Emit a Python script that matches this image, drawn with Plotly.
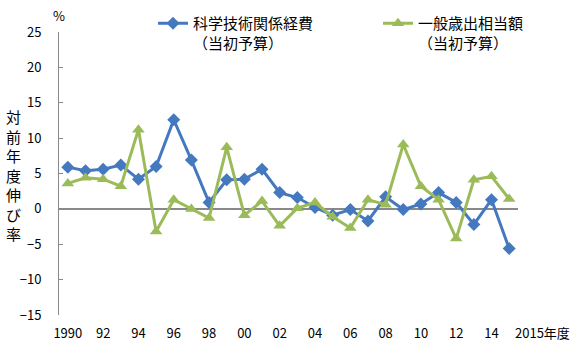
import plotly.graph_objects as go

years = list(range(1990, 2016))
st_budget = [5.9, 5.4, 5.6, 6.2, 4.2, 6.0, 12.6, 6.9, 0.9, 4.1, 4.2, 5.6, 2.3, 1.6, 0.2,
             -0.9, -0.1, -1.7, 1.7, -0.1, 0.7, 2.3, 0.9, -2.2, 1.3, -5.6]
general_exp = [3.6, 4.4, 4.2, 3.2, 11.2, -3.2, 1.3, 0.0, -1.3, 8.7, -0.9, 1.1, -2.4, 0.1, 0.9,
               -1.1, -2.7, 1.3, 0.6, 9.1, 3.2, 1.3, -4.2, 4.1, 4.6, 1.4]
tick_vals = list(range(1990, 2015, 2))
tick_text = ["1990", "92", "94", "96", "98", "00", "02", "04", "06", "08", "10", "12", "14"]
y_ticks = [25, 20, 15, 10, 5, 0, -5, -10, -15]
name1 = "科学技術関係経費<br>（当初予算）"
name2 = "一般歳出相当額<br>（当初予算）"

FONT = "Noto Sans CJK JP"
BLUE = "#4478BF"
GREEN = "#9BBB59"
GRAY = "#898989"

fig = go.Figure()
fig.add_trace(go.Scatter(x=years, y=st_budget, name=name1, mode="lines+markers",
                         line=dict(color=BLUE, width=3),
                         marker=dict(symbol="diamond", size=10, color=BLUE),
                         legend="legend"))
fig.add_trace(go.Scatter(x=years, y=general_exp, name=name2, mode="lines+markers",
                         line=dict(color=GREEN, width=3),
                         marker=dict(symbol="triangle-up", size=11, color=GREEN),
                         legend="legend2"))

fig.update_layout(
    width=583, height=350,
    margin=dict(l=59, r=65, t=32, b=35, autoexpand=False),
    paper_bgcolor="white", plot_bgcolor="white",
    font=dict(family=FONT, size=13, color="black"),
    legend=dict(x=(153 - 59) / 459, y=1 + 25 / 283,
                xanchor="left", yanchor="top", valign="top",
                font=dict(size=15, family=FONT), bgcolor="rgba(0,0,0,0)",
                tracegroupgap=0, itemwidth=30),
    legend2=dict(x=(378 - 59) / 459, y=1 + 25 / 283,
                 xanchor="left", yanchor="top", valign="top",
                 font=dict(size=15, family=FONT), bgcolor="rgba(0,0,0,0)",
                 tracegroupgap=0, itemwidth=30),
    showlegend=True,
)
fig.update_xaxes(range=[1989.5, 2015.5], tickmode="array", tickvals=tick_vals,
                 ticktext=tick_text, showgrid=False, showline=False, zeroline=False,
                 ticks="", ticklabelstandoff=9, tickfont=dict(size=13), tickangle=0)
fig.update_yaxes(range=[-15, 25], tickmode="array", tickvals=y_ticks,
                 showgrid=False, showline=True, linecolor=GRAY, linewidth=1,
                 ticks="inside", ticklen=4, tickcolor=GRAY, tickwidth=1,
                 zeroline=True, zerolinecolor=GRAY, zerolinewidth=1.5,
                 ticklabelstandoff=14, tickfont=dict(size=13))

fig.add_annotation(text="%", xref="paper", yref="paper", x=0, y=1, yshift=5,
                   xanchor="center", yanchor="bottom", showarrow=False,
                   font=dict(size=13, family=FONT))
fig.add_annotation(text="2015年度", xref="x", yref="paper", x=2015, y=0,
                   xanchor="left", yanchor="top", xshift=4, yshift=-6, showarrow=False,
                   font=dict(size=13, family=FONT))
fig.add_annotation(text="<br>".join(list("対前年度伸び率")), xref="paper", yref="paper",
                   x=(13 - 59) / 459, y=(315 - 175) / 283, xanchor="center", yanchor="middle",
                   showarrow=False, font=dict(size=15, family=FONT))

fig.write_html("out.html")
